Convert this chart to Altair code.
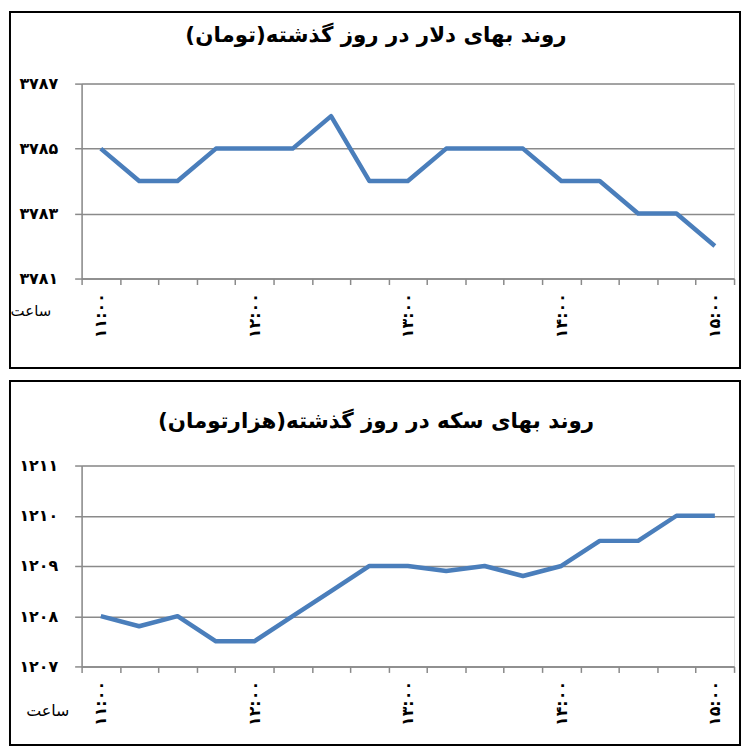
import json
import altair as alt
import pandas as pd

times = ['۱۱:۰۰', '۱۱:۱۵', '۱۱:۳۰', '۱۱:۴۵', '۱۲:۰۰', '۱۲:۱۵', '۱۲:۳۰', '۱۲:۴۵',
         '۱۳:۰۰', '۱۳:۱۵', '۱۳:۳۰', '۱۳:۴۵', '۱۴:۰۰', '۱۴:۱۵', '۱۴:۳۰', '۱۴:۴۵', '۱۵:۰۰']
shown_times = ['۱۱:۰۰', '۱۲:۰۰', '۱۳:۰۰', '۱۴:۰۰', '۱۵:۰۰']

dollar = [3785, 3784, 3784, 3785, 3785, 3785, 3786, 3784, 3784,
          3785, 3785, 3785, 3784, 3784, 3783, 3783, 3782]
dollar_ticks = [3781, 3783, 3785, 3787]
dollar_tick_labels = ['۳۷۸۱', '۳۷۸۳', '۳۷۸۵', '۳۷۸۷']

coin = [1208, 1207.8, 1208, 1207.5, 1207.5, 1208, 1208.5, 1209, 1209,
        1208.9, 1209, 1208.8, 1209, 1209.5, 1209.5, 1210, 1210]
coin_ticks = [1207, 1208, 1209, 1210, 1211]
coin_tick_labels = ['۱۲۰۷', '۱۲۰۸', '۱۲۰۹', '۱۲۱۰', '۱۲۱۱']

title_dollar = 'روند بهای دلار در روز گذشته(تومان)'
title_coin = 'روند بهای سکه در روز گذشته(هزارتومان)'
hour_label = 'ساعت'

FONT = 'DejaVu Sans'
GRID = '#8a8a8a'
LINE = '#4a7ebb'
W = 656


def panel(title, values, ticks, tick_labels, H, frame, title_y, hour_xy, hour_size):
    df = pd.DataFrame({'time': times, 'price': values})
    one = pd.DataFrame({'k': [0]})
    x_label_expr = f"indexof({json.dumps(shown_times)}, datum.value) >= 0 ? datum.value : ''"
    y_label_expr = f"{json.dumps(tick_labels)}[indexof({json.dumps(ticks)}, datum.value)]"

    line = alt.Chart(df).mark_line(color=LINE, strokeWidth=4.5, strokeJoin='round').encode(
        x=alt.X('time:O', sort=times, bandPosition=0.5,
                scale=alt.Scale(type='band', paddingInner=0, paddingOuter=0),
                axis=alt.Axis(title=None, tickBand='extent', labelExpr=x_label_expr,
                              labelAngle=270, labelOverlap=False, labelPadding=8,
                              labelFont=FONT, labelFontSize=16, labelFontWeight='bold',
                              labelColor='black', tickSize=6, tickColor=GRID,
                              domainColor=GRID, domainWidth=1.5, tickWidth=1.5, grid=False)),
        y=alt.Y('price:Q',
                scale=alt.Scale(domain=[ticks[0], ticks[-1]], nice=False, zero=False),
                axis=alt.Axis(title=None, values=ticks, labelExpr=y_label_expr,
                              labelFont=FONT, labelFontSize=16, labelFontWeight='bold',
                              labelColor='black', labelPadding=17, tickSize=7,
                              tickColor=GRID, tickWidth=1.5, domainColor=GRID,
                              domainWidth=1.5, grid=True, gridColor=GRID, gridWidth=1.5)),
    )

    box = alt.Chart(one).mark_rect(fillOpacity=0, stroke='black', strokeWidth=2).encode(
        x=alt.value(frame[0]), x2=alt.value(frame[1]),
        y=alt.value(frame[2]), y2=alt.value(frame[3]),
    )

    ttl = alt.Chart(one).mark_text(text=title, font=FONT, fontSize=21.5, fontWeight='bold',
                                   align='center', baseline='alphabetic', color='black').encode(
        x=alt.value(296), y=alt.value(title_y))

    hour = alt.Chart(one).mark_text(text=hour_label, font=FONT, fontSize=hour_size,
                                    align='center', baseline='middle', color='black').encode(
        x=alt.value(hour_xy[0]), y=alt.value(hour_xy[1]))

    return alt.layer(box, line, ttl, hour).properties(width=W, height=H)


top = panel(title_dollar, dollar, dollar_ticks, dollar_tick_labels, 196,
            (-72, 662, -72, 286), -42, (-51, 229), 15)
bottom = panel(title_coin, coin, coin_ticks, coin_tick_labels, 202,
               (-72, 662, -85, 281), -38, (-34, 247), 16)

chart = alt.vconcat(top, bottom, spacing=9).properties(padding=0).configure_view(
    stroke=None).configure(background='white')

chart.save('out.html', embed_options={'renderer': 'svg', 'actions': False})
